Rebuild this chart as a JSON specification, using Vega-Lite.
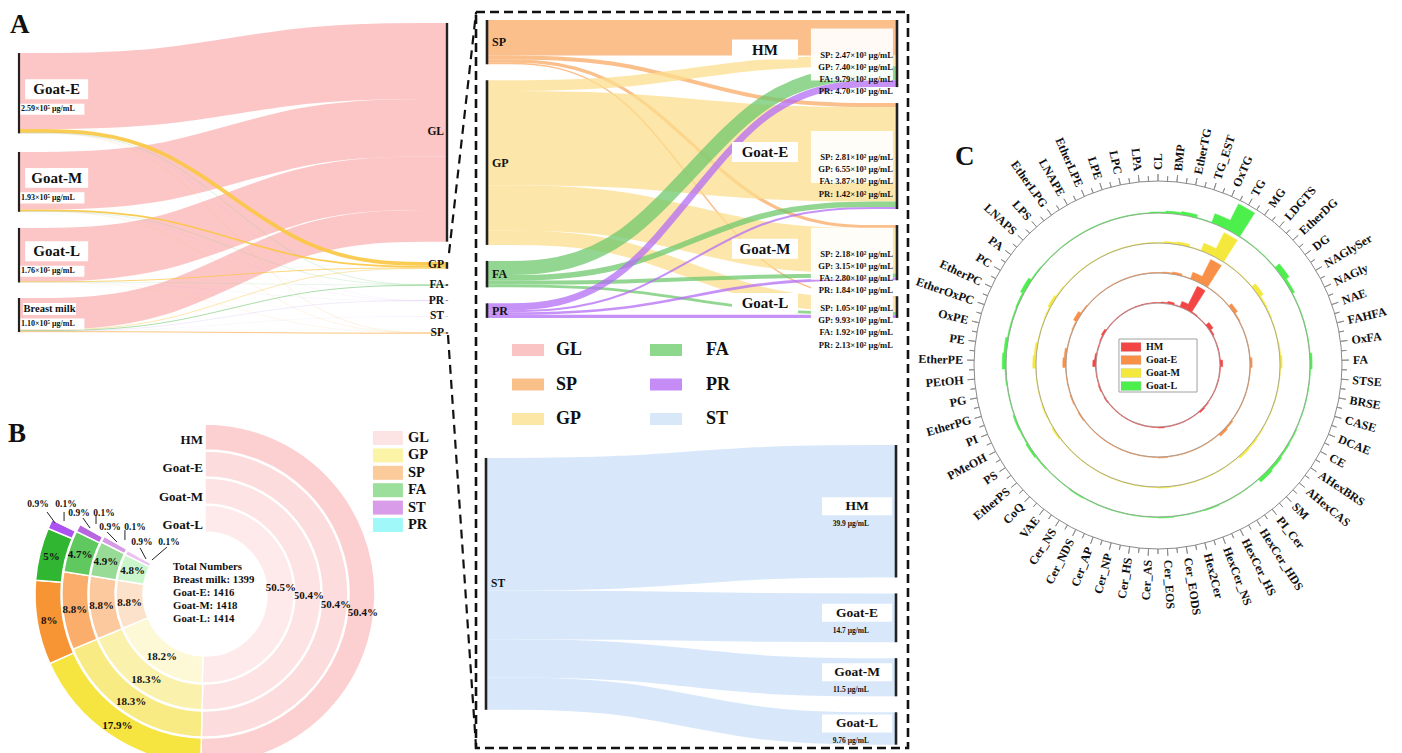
{
"$schema":"https://vega.github.io/schema/vega-lite/v6.json",
"width":1402,"height":753,"padding":0,"autosize":{"type":"none"},"background":"white",
"config":{"view":{"stroke":null},"font":"Liberation Serif","text":{"font":"Liberation Serif","fontWeight":"bold","color":"#111111"}},
"datasets":{
"ls":[
{"s":"~","t":"~","so":0,"to":99,"v":97000},
{"s":"~","t":"~","so":1.5,"to":99,"v":60000},
{"s":"~","t":"~","so":2.5,"to":99,"v":52000},
{"s":"~","t":"~","so":3.5,"to":99,"v":50000},
{"s":"~","t":"~","so":99,"to":1.5,"v":66000},
{"s":"~","t":"~","so":99,"to":2.5,"v":50000},
{"s":"~","t":"~","so":99,"to":3.5,"v":47000},
{"s":"~","t":"~","so":99,"to":4.5,"v":50000},
{"s":"~","t":"~","so":99,"to":5.5,"v":51000},
{"s":"Goat-E","t":"GL","so":1,"to":1,"v":245000},
{"s":"Goat-E","t":"GP","so":1,"to":2,"v":12000},
{"s":"Goat-E","t":"FA","so":1,"to":3,"v":1000},
{"s":"Goat-E","t":"PR","so":1,"to":4,"v":300},
{"s":"Goat-E","t":"ST","so":1,"to":5,"v":100},
{"s":"Goat-E","t":"SP","so":1,"to":6,"v":600},
{"s":"Goat-M","t":"GL","so":2,"to":1,"v":185800},
{"s":"Goat-M","t":"GP","so":2,"to":2,"v":5500},
{"s":"Goat-M","t":"FA","so":2,"to":3,"v":800},
{"s":"Goat-M","t":"PR","so":2,"to":4,"v":300},
{"s":"Goat-M","t":"ST","so":2,"to":5,"v":100},
{"s":"Goat-M","t":"SP","so":2,"to":6,"v":500},
{"s":"Goat-L","t":"GL","so":3,"to":1,"v":172100},
{"s":"Goat-L","t":"GP","so":3,"to":2,"v":2500},
{"s":"Goat-L","t":"FA","so":3,"to":3,"v":600},
{"s":"Goat-L","t":"PR","so":3,"to":4,"v":300},
{"s":"Goat-L","t":"ST","so":3,"to":5,"v":100},
{"s":"Goat-L","t":"SP","so":3,"to":6,"v":400},
{"s":"Breast milk","t":"GL","so":4,"to":1,"v":102400},
{"s":"Breast milk","t":"GP","so":4,"to":2,"v":1500},
{"s":"Breast milk","t":"FA","so":4,"to":3,"v":2500},
{"s":"Breast milk","t":"PR","so":4,"to":4,"v":700},
{"s":"Breast milk","t":"ST","so":4,"to":5,"v":300},
{"s":"Breast milk","t":"SP","so":4,"to":6,"v":2600}
],
"rs":[
{"s":"~","t":"~","so":1.5,"to":99,"v":1111},
{"s":"~","t":"~","so":2.5,"to":99,"v":1111},
{"s":"~","t":"~","so":3.5,"to":99,"v":1111},
{"s":"~","t":"~","so":99,"to":1.5,"v":1111},
{"s":"~","t":"~","so":99,"to":2.5,"v":1111},
{"s":"~","t":"~","so":99,"to":3.5,"v":1111},
{"s":"SP","t":"HM","so":1,"to":1,"v":2470},
{"s":"SP","t":"Goat-E","so":1,"to":2,"v":281},
{"s":"SP","t":"Goat-M","so":1,"to":3,"v":218},
{"s":"SP","t":"Goat-L","so":1,"to":4,"v":105},
{"s":"GP","t":"HM","so":2,"to":1,"v":740},
{"s":"GP","t":"Goat-E","so":2,"to":2,"v":6550},
{"s":"GP","t":"Goat-M","so":2,"to":3,"v":3150},
{"s":"GP","t":"Goat-L","so":2,"to":4,"v":993},
{"s":"FA","t":"HM","so":3,"to":1,"v":979},
{"s":"FA","t":"Goat-E","so":3,"to":2,"v":387},
{"s":"FA","t":"Goat-M","so":3,"to":3,"v":280},
{"s":"FA","t":"Goat-L","so":3,"to":4,"v":192},
{"s":"PR","t":"HM","so":4,"to":1,"v":470},
{"s":"PR","t":"Goat-E","so":4,"to":2,"v":142},
{"s":"PR","t":"Goat-M","so":4,"to":3,"v":184},
{"s":"PR","t":"Goat-L","so":4,"to":4,"v":213}
],
"ss":[
{"s":"~","t":"~","so":0,"to":99,"v":3.9},
{"s":"~","t":"~","so":99,"to":1.5,"v":4.8},
{"s":"~","t":"~","so":99,"to":2.5,"v":4.8},
{"s":"~","t":"~","so":99,"to":3.5,"v":4.8},
{"s":"ST","t":"HM","so":1,"to":1,"v":39.9},
{"s":"ST","t":"Goat-E","so":1,"to":2,"v":14.7},
{"s":"ST","t":"Goat-M","so":1,"to":3,"v":11.5},
{"s":"ST","t":"Goat-L","so":1,"to":4,"v":9.76}
],
"curve":[{"pt":"sm","stage":0,"ord":0},{"pt":"sm2","stage":0.3333,"ord":1},{"pt":"tm2","stage":0.6667,"ord":2},{"pt":"tm","stage":1,"ord":3}],
"donut":[
{"g":"HM","c":"GL","k":1,"p":0.504},{"g":"HM","c":"GP","k":2,"p":0.179},{"g":"HM","c":"SP","k":3,"p":0.08},{"g":"HM","c":"FA","k":4,"p":0.05},{"g":"HM","c":"ST","k":5,"p":0.009},{"g":"HM","c":"PR","k":6,"p":0.001},
{"g":"Goat-E","c":"GL","k":1,"p":0.504},{"g":"Goat-E","c":"GP","k":2,"p":0.183},{"g":"Goat-E","c":"SP","k":3,"p":0.088},{"g":"Goat-E","c":"FA","k":4,"p":0.047},{"g":"Goat-E","c":"ST","k":5,"p":0.009},{"g":"Goat-E","c":"PR","k":6,"p":0.001},
{"g":"Goat-M","c":"GL","k":1,"p":0.504},{"g":"Goat-M","c":"GP","k":2,"p":0.183},{"g":"Goat-M","c":"SP","k":3,"p":0.088},{"g":"Goat-M","c":"FA","k":4,"p":0.049},{"g":"Goat-M","c":"ST","k":5,"p":0.009},{"g":"Goat-M","c":"PR","k":6,"p":0.001},
{"g":"Goat-L","c":"GL","k":1,"p":0.505},{"g":"Goat-L","c":"GP","k":2,"p":0.182},{"g":"Goat-L","c":"SP","k":3,"p":0.088},{"g":"Goat-L","c":"FA","k":4,"p":0.048},{"g":"Goat-L","c":"ST","k":5,"p":0.009},{"g":"Goat-L","c":"PR","k":6,"p":0.001}
],
"radar":[
{"lipid":"CL","i":0,"HM":1,"Goat-E":1,"Goat-M":1,"Goat-L":2},
{"lipid":"BMP","i":1,"HM":2,"Goat-E":2,"Goat-M":3,"Goat-L":4},
{"lipid":"EtherTG","i":2,"HM":4,"Goat-E":4,"Goat-M":5,"Goat-L":6},
{"lipid":"TG_EST","i":3,"HM":1,"Goat-E":1,"Goat-M":1,"Goat-L":1},
{"lipid":"OxTG","i":4,"HM":11,"Goat-E":13,"Goat-M":15,"Goat-L":18},
{"lipid":"TG","i":5,"HM":48,"Goat-E":48,"Goat-M":48,"Goat-L":52},
{"lipid":"MG","i":6,"HM":2,"Goat-E":1,"Goat-M":1,"Goat-L":1},
{"lipid":"LDGTS","i":7,"HM":1,"Goat-E":1,"Goat-M":1,"Goat-L":1},
{"lipid":"EtherDG","i":8,"HM":1,"Goat-E":1,"Goat-M":1,"Goat-L":1},
{"lipid":"DG","i":9,"HM":8,"Goat-E":7,"Goat-M":9,"Goat-L":11},
{"lipid":"NAGlySer","i":10,"HM":3,"Goat-E":2,"Goat-M":3,"Goat-L":5},
{"lipid":"NAGly","i":11,"HM":1,"Goat-E":1,"Goat-M":2,"Goat-L":1},
{"lipid":"NAE","i":12,"HM":1,"Goat-E":1,"Goat-M":1,"Goat-L":1},
{"lipid":"FAHFA","i":13,"HM":1,"Goat-E":1,"Goat-M":1,"Goat-L":1},
{"lipid":"OxFA","i":14,"HM":1,"Goat-E":1,"Goat-M":2,"Goat-L":1},
{"lipid":"FA","i":15,"HM":5,"Goat-E":4,"Goat-M":4,"Goat-L":4},
{"lipid":"STSE","i":16,"HM":1,"Goat-E":1,"Goat-M":1,"Goat-L":1},
{"lipid":"BRSE","i":17,"HM":1,"Goat-E":1,"Goat-M":1,"Goat-L":1},
{"lipid":"CASE","i":18,"HM":1,"Goat-E":1,"Goat-M":1,"Goat-L":1},
{"lipid":"DCAE","i":19,"HM":1,"Goat-E":1,"Goat-M":1,"Goat-L":1},
{"lipid":"CE","i":20,"HM":1,"Goat-E":1,"Goat-M":1,"Goat-L":2},
{"lipid":"AHexBRS","i":21,"HM":1,"Goat-E":1,"Goat-M":2,"Goat-L":3},
{"lipid":"AHexCAS","i":22,"HM":2,"Goat-E":3,"Goat-M":3,"Goat-L":5},
{"lipid":"SM","i":23,"HM":3,"Goat-E":5,"Goat-M":4,"Goat-L":7},
{"lipid":"PI_Cer","i":24,"HM":1,"Goat-E":1,"Goat-M":1,"Goat-L":1},
{"lipid":"HexCer_HDS","i":25,"HM":1,"Goat-E":1,"Goat-M":1,"Goat-L":1},
{"lipid":"HexCer_HS","i":26,"HM":1,"Goat-E":1,"Goat-M":1,"Goat-L":1},
{"lipid":"HexCer_NS","i":27,"HM":1,"Goat-E":1,"Goat-M":1,"Goat-L":2},
{"lipid":"Hex2Cer","i":28,"HM":1,"Goat-E":1,"Goat-M":1,"Goat-L":1},
{"lipid":"Cer_EODS","i":29,"HM":1,"Goat-E":1,"Goat-M":1,"Goat-L":1},
{"lipid":"Cer_EOS","i":30,"HM":2,"Goat-E":2,"Goat-M":2,"Goat-L":2},
{"lipid":"Cer_AS","i":31,"HM":1,"Goat-E":1,"Goat-M":1,"Goat-L":1},
{"lipid":"Cer_HS","i":32,"HM":1,"Goat-E":1,"Goat-M":1,"Goat-L":1},
{"lipid":"Cer_NP","i":33,"HM":1,"Goat-E":1,"Goat-M":1,"Goat-L":1},
{"lipid":"Cer_AP","i":34,"HM":1,"Goat-E":1,"Goat-M":1,"Goat-L":1},
{"lipid":"Cer_NDS","i":35,"HM":1,"Goat-E":1,"Goat-M":1,"Goat-L":1},
{"lipid":"Cer_NS","i":36,"HM":1,"Goat-E":1,"Goat-M":1,"Goat-L":2},
{"lipid":"VAE","i":37,"HM":1,"Goat-E":1,"Goat-M":1,"Goat-L":1},
{"lipid":"CoQ","i":38,"HM":1,"Goat-E":1,"Goat-M":1,"Goat-L":1},
{"lipid":"EtherPS","i":39,"HM":1,"Goat-E":1,"Goat-M":1,"Goat-L":2},
{"lipid":"PS","i":40,"HM":2,"Goat-E":2,"Goat-M":3,"Goat-L":4},
{"lipid":"PMeOH","i":41,"HM":1,"Goat-E":1,"Goat-M":1,"Goat-L":2},
{"lipid":"PI","i":42,"HM":2,"Goat-E":2,"Goat-M":2,"Goat-L":3},
{"lipid":"EtherPG","i":43,"HM":1,"Goat-E":1,"Goat-M":1,"Goat-L":1},
{"lipid":"PG","i":44,"HM":1,"Goat-E":1,"Goat-M":1,"Goat-L":1},
{"lipid":"PEtOH","i":45,"HM":1,"Goat-E":1,"Goat-M":1,"Goat-L":2},
{"lipid":"EtherPE","i":46,"HM":6,"Goat-E":6,"Goat-M":6,"Goat-L":7},
{"lipid":"PE","i":47,"HM":3,"Goat-E":4,"Goat-M":4,"Goat-L":5},
{"lipid":"OxPE","i":48,"HM":1,"Goat-E":1,"Goat-M":1,"Goat-L":2},
{"lipid":"EtherOxPC","i":49,"HM":1,"Goat-E":1,"Goat-M":1,"Goat-L":2},
{"lipid":"EtherPC","i":50,"HM":2,"Goat-E":2,"Goat-M":2,"Goat-L":3},
{"lipid":"PC","i":51,"HM":4,"Goat-E":7,"Goat-M":5,"Goat-L":7},
{"lipid":"PA","i":52,"HM":1,"Goat-E":2,"Goat-M":2,"Goat-L":2},
{"lipid":"LNAPS","i":53,"HM":1,"Goat-E":1,"Goat-M":1,"Goat-L":1},
{"lipid":"LPS","i":54,"HM":1,"Goat-E":1,"Goat-M":1,"Goat-L":1},
{"lipid":"EtherLPG","i":55,"HM":1,"Goat-E":1,"Goat-M":1,"Goat-L":1},
{"lipid":"LNAPE","i":56,"HM":1,"Goat-E":1,"Goat-M":1,"Goat-L":1},
{"lipid":"EtherLPE","i":57,"HM":1,"Goat-E":1,"Goat-M":1,"Goat-L":1},
{"lipid":"LPE","i":58,"HM":1,"Goat-E":1,"Goat-M":1,"Goat-L":1},
{"lipid":"LPC","i":59,"HM":1,"Goat-E":1,"Goat-M":1,"Goat-L":1},
{"lipid":"LPA","i":60,"HM":1,"Goat-E":1,"Goat-M":1,"Goat-L":1}
],
"legA":[{"c":"GL","col":1,"row":1},{"c":"SP","col":1,"row":2},{"c":"GP","col":1,"row":3},{"c":"FA","col":2,"row":1},{"c":"PR","col":2,"row":2},{"c":"ST","col":2,"row":3}],
"grp":[{"g":"HM"},{"g":"Goat-E"},{"g":"Goat-M"},{"g":"Goat-L"}]
},
"resolve":{"scale":{"x":"independent","y":"independent","color":"independent","strokeWidth":"independent","theta":"independent","radius":"independent","angle":"independent","opacity":"independent"}},
"layer":[
{"data":{"name":"ls"},
 "transform":[
  {"stack":"v","groupby":[],"sort":[{"field":"so"},{"field":"to"}],"as":["s0","s1"]},
  {"stack":"v","groupby":[],"sort":[{"field":"to"},{"field":"so"}],"as":["t0","t1"]},
  {"filter":{"not":{"field":"s","equal":"~"}}},
  {"fold":["s0","s1"],"as":["ks","ys"]},
  {"joinaggregate":[{"op":"mean","field":"ys","as":"sm"},{"op":"median","field":"ys","as":"sm2"}],"groupby":["s","t"]},
  {"filter":{"field":"ks","equal":"s0"}},
  {"fold":["t0","t1"],"as":["kt","yt"]},
  {"joinaggregate":[{"op":"mean","field":"yt","as":"tm"},{"op":"median","field":"yt","as":"tm2"}],"groupby":["s","t"]},
  {"filter":{"field":"kt","equal":"t0"}},
  {"fold":["sm","sm2","tm2","tm"],"as":["pt","y"]},
  {"lookup":"pt","from":{"data":{"name":"curve"},"key":"pt","fields":["stage","ord"]}},
  {"filter":{"field":"t","equal":"GL"}}
 ],
 "mark":{"type":"line","interpolate":"basis","opacity":0.85,"color":"#fbbcbc"},
 "encoding":{
  "x":{"field":"stage","type":"quantitative","scale":{"domain":[0,1],"range":[19,447]},"axis":null},
  "y":{"field":"y","type":"quantitative","scale":{"domain":[0,1000000],"range":[23,333]},"axis":null},
  "order":{"field":"ord","type":"quantitative"},
  "detail":[{"field":"s","type":"nominal"},{"field":"t","type":"nominal"}],
  "strokeWidth":{"field":"v","type":"quantitative","scale":{"domain":[0,1000000],"range":[0,310]},"legend":null}
 }},
{"data":{"name":"ls"},
 "transform":[
  {"stack":"v","groupby":[],"sort":[{"field":"so"},{"field":"to"}],"as":["s0","s1"]},
  {"stack":"v","groupby":[],"sort":[{"field":"to"},{"field":"so"}],"as":["t0","t1"]},
  {"filter":{"not":{"field":"s","equal":"~"}}},
  {"fold":["s0","s1"],"as":["ks","ys"]},
  {"joinaggregate":[{"op":"mean","field":"ys","as":"sm"},{"op":"median","field":"ys","as":"sm2"}],"groupby":["s","t"]},
  {"filter":{"field":"ks","equal":"s0"}},
  {"fold":["t0","t1"],"as":["kt","yt"]},
  {"joinaggregate":[{"op":"mean","field":"yt","as":"tm"},{"op":"median","field":"yt","as":"tm2"}],"groupby":["s","t"]},
  {"filter":{"field":"kt","equal":"t0"}},
  {"fold":["sm","sm2","tm2","tm"],"as":["pt","y"]},
  {"lookup":"pt","from":{"data":{"name":"curve"},"key":"pt","fields":["stage","ord"]}},
  {"filter":{"not":{"field":"t","equal":"GL"}}}
 ],
 "mark":{"type":"line","interpolate":"basis","opacity":0.9},
 "encoding":{
  "x":{"field":"stage","type":"quantitative","scale":{"domain":[0,1],"range":[19,447]},"axis":null},
  "y":{"field":"y","type":"quantitative","scale":{"domain":[0,1000000],"range":[23,333]},"axis":null},
  "order":{"field":"ord","type":"quantitative"},
  "detail":[{"field":"s","type":"nominal"},{"field":"t","type":"nominal"}],
  "color":{"field":"t","type":"nominal","scale":{"domain":["GP","FA","PR","ST","SP"],"range":["#fbc640","#86cf86","#b99af0","#c0a8f2","#f8b050"]},"legend":null},
  "strokeWidth":{"field":"v","type":"quantitative","scale":{"domain":[0,1000000],"range":[0,310]},"legend":null}
 }},
{"data":{"name":"ls"},
 "transform":[
  {"stack":"v","groupby":[],"sort":[{"field":"so"},{"field":"to"}],"as":["s0","s1"]},
  {"stack":"v","groupby":[],"sort":[{"field":"to"},{"field":"so"}],"as":["t0","t1"]},
  {"filter":{"not":{"field":"s","equal":"~"}}},
  {"aggregate":[{"op":"min","field":"s0","as":"lo"},{"op":"max","field":"s1","as":"hi"}],"groupby":["s"]}
 ],
 "mark":{"type":"rule","strokeWidth":2.2,"color":"#222222"},
 "encoding":{
  "x":{"datum":0,"type":"quantitative","scale":{"domain":[0,1],"range":[19,447]},"axis":null},
  "y":{"field":"lo","type":"quantitative","scale":{"domain":[0,1000000],"range":[23,333]},"axis":null},
  "y2":{"field":"hi"}
 }},
{"data":{"name":"ls"},
 "transform":[
  {"stack":"v","groupby":[],"sort":[{"field":"so"},{"field":"to"}],"as":["s0","s1"]},
  {"stack":"v","groupby":[],"sort":[{"field":"to"},{"field":"so"}],"as":["t0","t1"]},
  {"filter":{"not":{"field":"s","equal":"~"}}},
  {"aggregate":[{"op":"min","field":"t0","as":"lo"},{"op":"max","field":"t1","as":"hi"}],"groupby":["t"]}
 ],
 "mark":{"type":"rule","strokeWidth":2.4,"color":"#222222"},
 "encoding":{
  "x":{"datum":1,"type":"quantitative","scale":{"domain":[0,1],"range":[19,447]},"axis":null},
  "y":{"field":"lo","type":"quantitative","scale":{"domain":[0,1000000],"range":[23,333]},"axis":null},
  "y2":{"field":"hi"}
 }},
{"data":{"values":[{"x1":1.0047,"y1":742000,"x2":1.068,"y2":-35500},{"x1":1.0023,"y1":1006500,"x2":1.068,"y2":2338700}]},
 "mark":{"type":"rule","strokeWidth":2.2,"strokeDash":[9,6],"color":"#111111"},
 "encoding":{
  "x":{"field":"x1","type":"quantitative","scale":{"domain":[0,1],"range":[19,447]},"axis":null},
  "y":{"field":"y1","type":"quantitative","scale":{"domain":[0,1000000],"range":[23,333]},"axis":null},
  "x2":{"field":"x2"},"y2":{"field":"y2"}
 }},
{"data":{"name":"ls"},
 "transform":[
  {"stack":"v","groupby":[],"sort":[{"field":"so"},{"field":"to"}],"as":["s0","s1"]},
  {"stack":"v","groupby":[],"sort":[{"field":"to"},{"field":"so"}],"as":["t0","t1"]},
  {"filter":{"not":{"field":"s","equal":"~"}}},
  {"aggregate":[{"op":"min","field":"s0","as":"lo"},{"op":"max","field":"s1","as":"hi"}],"groupby":["s"]},
  {"fold":["lo","hi"],"as":["kk","yy"]},
  {"aggregate":[{"op":"mean","field":"yy","as":"mid"}],"groupby":["s"]}
 ],
 "layer":[
  {"transform":[{"filter":{"not":{"field":"s","equal":"Breast milk"}}}],
   "mark":{"type":"point","shape":"M-1,-0.317H1V0.317H-1Z","size":3969,"filled":true,"fill":"white","opacity":1,"strokeWidth":0,"yOffset":-4},
   "encoding":{"x":{"datum":0.088,"type":"quantitative","scale":{"domain":[0,1],"range":[19,447]},"axis":null},"y":{"field":"mid","type":"quantitative","scale":{"domain":[0,1000000],"range":[23,333]},"axis":null}}},
  {"transform":[{"filter":{"not":{"field":"s","equal":"Breast milk"}}}],
   "mark":{"type":"text","fontSize":15,"align":"center","baseline":"middle","yOffset":-4},
   "encoding":{"x":{"datum":0.088,"type":"quantitative","scale":{"domain":[0,1],"range":[19,447]},"axis":null},"y":{"field":"mid","type":"quantitative","scale":{"domain":[0,1000000],"range":[23,333]},"axis":null},"text":{"field":"s"}}},
  {"transform":[{"filter":{"field":"s","equal":"Breast milk"}}],
   "mark":{"type":"point","shape":"M-1,-0.226H1V0.226H-1Z","size":2809,"filled":true,"fill":"white","opacity":1,"strokeWidth":0,"yOffset":-6},
   "encoding":{"x":{"datum":0.0713,"type":"quantitative","scale":{"domain":[0,1],"range":[19,447]},"axis":null},"y":{"field":"mid","type":"quantitative","scale":{"domain":[0,1000000],"range":[23,333]},"axis":null}}},
  {"transform":[{"filter":{"field":"s","equal":"Breast milk"}}],
   "mark":{"type":"text","fontSize":10.5,"align":"center","baseline":"middle","yOffset":-6},
   "encoding":{"x":{"datum":0.0713,"type":"quantitative","scale":{"domain":[0,1],"range":[19,447]},"axis":null},"y":{"field":"mid","type":"quantitative","scale":{"domain":[0,1000000],"range":[23,333]},"axis":null},"text":{"field":"s"}}}
 ],
 "resolve":{"scale":{"x":"independent","y":"independent"}}},
{"data":{"name":"ls"},
 "transform":[
  {"stack":"v","groupby":[],"sort":[{"field":"so"},{"field":"to"}],"as":["s0","s1"]},
  {"stack":"v","groupby":[],"sort":[{"field":"to"},{"field":"so"}],"as":["t0","t1"]},
  {"filter":{"not":{"field":"s","equal":"~"}}},
  {"aggregate":[{"op":"min","field":"s0","as":"lo"},{"op":"max","field":"s1","as":"hi"}],"groupby":["s"]},
  {"fold":["lo","hi"],"as":["kk","yy"]},
  {"aggregate":[{"op":"mean","field":"yy","as":"mid"}],"groupby":["s"]},
  {"lookup":"s","from":{"data":{"values":[{"s":"Goat-E","lab":"2.59×10⁵ μg/mL"},{"s":"Goat-M","lab":"1.93×10⁵ μg/mL"},{"s":"Goat-L","lab":"1.76×10⁵ μg/mL"},{"s":"Breast milk","lab":"1.10×10⁵ μg/mL"}]},"key":"s","fields":["lab"]}}
 ],
 "layer":[
  {"transform":[{"filter":{"not":{"field":"s","equal":"Breast milk"}}}],
   "mark":{"type":"point","shape":"M-1,-0.172H1V0.172H-1Z","size":4096,"filled":true,"fill":"white","opacity":1,"strokeWidth":0,"yOffset":16},
   "encoding":{"x":{"datum":0.078,"type":"quantitative","scale":{"domain":[0,1],"range":[19,447]},"axis":null},"y":{"field":"mid","type":"quantitative","scale":{"domain":[0,1000000],"range":[23,333]},"axis":null}}},
  {"transform":[{"filter":{"not":{"field":"s","equal":"Breast milk"}}}],
   "mark":{"type":"text","fontSize":8,"align":"left","baseline":"middle","yOffset":16},
   "encoding":{"x":{"datum":0.0047,"type":"quantitative","scale":{"domain":[0,1],"range":[19,447]},"axis":null},"y":{"field":"mid","type":"quantitative","scale":{"domain":[0,1000000],"range":[23,333]},"axis":null},"text":{"field":"lab"}}},
  {"transform":[{"filter":{"field":"s","equal":"Breast milk"}}],
   "mark":{"type":"point","shape":"M-1,-0.172H1V0.172H-1Z","size":4096,"filled":true,"fill":"white","opacity":1,"strokeWidth":0,"yOffset":9},
   "encoding":{"x":{"datum":0.078,"type":"quantitative","scale":{"domain":[0,1],"range":[19,447]},"axis":null},"y":{"field":"mid","type":"quantitative","scale":{"domain":[0,1000000],"range":[23,333]},"axis":null}}},
  {"transform":[{"filter":{"field":"s","equal":"Breast milk"}}],
   "mark":{"type":"text","fontSize":8,"align":"left","baseline":"middle","yOffset":9},
   "encoding":{"x":{"datum":0.0047,"type":"quantitative","scale":{"domain":[0,1],"range":[19,447]},"axis":null},"y":{"field":"mid","type":"quantitative","scale":{"domain":[0,1000000],"range":[23,333]},"axis":null},"text":{"field":"lab"}}}
 ],
 "resolve":{"scale":{"x":"independent","y":"independent"}}},
{"data":{"name":"ls"},
 "transform":[
  {"stack":"v","groupby":[],"sort":[{"field":"so"},{"field":"to"}],"as":["s0","s1"]},
  {"stack":"v","groupby":[],"sort":[{"field":"to"},{"field":"so"}],"as":["t0","t1"]},
  {"filter":{"not":{"field":"s","equal":"~"}}},
  {"aggregate":[{"op":"min","field":"t0","as":"lo"},{"op":"max","field":"t1","as":"hi"}],"groupby":["t"]},
  {"fold":["lo","hi"],"as":["kk","yy"]},
  {"aggregate":[{"op":"mean","field":"yy","as":"mid"}],"groupby":["t"]}
 ],
 "mark":{"type":"text","fontSize":11.5,"align":"right","baseline":"middle","dx":-3},
 "encoding":{
  "x":{"datum":1,"type":"quantitative","scale":{"domain":[0,1],"range":[19,447]},"axis":null},
  "y":{"field":"mid","type":"quantitative","scale":{"domain":[0,1000000],"range":[23,333]},"axis":null},
  "text":{"field":"t"}
 }},
{"data":{"values":[{}]},
 "mark":{"type":"text","fontSize":27,"align":"left","baseline":"alphabetic"},
 "encoding":{
  "x":{"datum":-0.021,"type":"quantitative","scale":{"domain":[0,1],"range":[19,447]},"axis":null},
  "y":{"datum":32258,"type":"quantitative","scale":{"domain":[0,1000000],"range":[23,333]},"axis":null},
  "text":{"value":"A"}
 }},
{"data":{"name":"rs"},
 "transform":[
  {"stack":"v","groupby":[],"sort":[{"field":"so"},{"field":"to"}],"as":["s0","s1"]},
  {"stack":"v","groupby":[],"sort":[{"field":"to"},{"field":"so"}],"as":["t0","t1"]},
  {"filter":{"not":{"field":"s","equal":"~"}}},
  {"fold":["s0","s1"],"as":["ks","ys"]},
  {"joinaggregate":[{"op":"mean","field":"ys","as":"sm"},{"op":"median","field":"ys","as":"sm2"}],"groupby":["s","t"]},
  {"filter":{"field":"ks","equal":"s0"}},
  {"fold":["t0","t1"],"as":["kt","yt"]},
  {"joinaggregate":[{"op":"mean","field":"yt","as":"tm"},{"op":"median","field":"yt","as":"tm2"}],"groupby":["s","t"]},
  {"filter":{"field":"kt","equal":"t0"}},
  {"fold":["sm","sm2","tm2","tm"],"as":["pt","y"]},
  {"lookup":"pt","from":{"data":{"name":"curve"},"key":"pt","fields":["stage","ord"]}},
  {"filter":{"field":"s","oneOf":["SP","GP"]}}
 ],
 "mark":{"type":"line","interpolate":"basis","opacity":0.75},
 "encoding":{
  "x":{"field":"stage","type":"quantitative","scale":{"domain":[0,1],"range":[487,897]},"axis":null},
  "y":{"field":"y","type":"quantitative","scale":{"domain":[0,20000],"range":[20,308]},"axis":null},
  "order":{"field":"ord","type":"quantitative"},
  "detail":[{"field":"s","type":"nominal"},{"field":"t","type":"nominal"}],
  "color":{"field":"s","type":"nominal","scale":{"domain":["SP","GP"],"range":["#f8aa64","#fcde8c"]},"legend":null},
  "strokeWidth":{"field":"v","type":"quantitative","scale":{"domain":[0,20000],"range":[0,288]},"legend":null}
 }},
{"data":{"name":"rs"},
 "transform":[
  {"stack":"v","groupby":[],"sort":[{"field":"so"},{"field":"to"}],"as":["s0","s1"]},
  {"stack":"v","groupby":[],"sort":[{"field":"to"},{"field":"so"}],"as":["t0","t1"]},
  {"filter":{"not":{"field":"s","equal":"~"}}},
  {"fold":["s0","s1"],"as":["ks","ys"]},
  {"joinaggregate":[{"op":"mean","field":"ys","as":"sm"},{"op":"median","field":"ys","as":"sm2"}],"groupby":["s","t"]},
  {"filter":{"field":"ks","equal":"s0"}},
  {"fold":["t0","t1"],"as":["kt","yt"]},
  {"joinaggregate":[{"op":"mean","field":"yt","as":"tm"},{"op":"median","field":"yt","as":"tm2"}],"groupby":["s","t"]},
  {"filter":{"field":"kt","equal":"t0"}},
  {"fold":["sm","sm2","tm2","tm"],"as":["pt","y"]},
  {"lookup":"pt","from":{"data":{"name":"curve"},"key":"pt","fields":["stage","ord"]}},
  {"filter":{"field":"s","oneOf":["FA","PR"]}}
 ],
 "mark":{"type":"line","interpolate":"basis","opacity":0.75},
 "encoding":{
  "x":{"field":"stage","type":"quantitative","scale":{"domain":[0,1],"range":[487,897]},"axis":null},
  "y":{"field":"y","type":"quantitative","scale":{"domain":[0,20000],"range":[20,308]},"axis":null},
  "order":{"field":"ord","type":"quantitative"},
  "detail":[{"field":"s","type":"nominal"},{"field":"t","type":"nominal"}],
  "color":{"field":"s","type":"nominal","scale":{"domain":["FA","PR"],"range":["#6ec86e","#b46ef5"]},"legend":null},
  "strokeWidth":{"field":"v","type":"quantitative","scale":{"domain":[0,20000],"range":[0,288]},"legend":null}
 }},
{"data":{"name":"rs"},
 "transform":[
  {"stack":"v","groupby":[],"sort":[{"field":"so"},{"field":"to"}],"as":["s0","s1"]},
  {"stack":"v","groupby":[],"sort":[{"field":"to"},{"field":"so"}],"as":["t0","t1"]},
  {"filter":{"not":{"field":"s","equal":"~"}}},
  {"aggregate":[{"op":"min","field":"s0","as":"lo"},{"op":"max","field":"s1","as":"hi"}],"groupby":["s"]},
  {"fold":["lo","hi"],"as":["kk","yy"]},
  {"joinaggregate":[{"op":"min","field":"yy","as":"lo2"},{"op":"max","field":"yy","as":"hi2"},{"op":"mean","field":"yy","as":"mid"}],"groupby":["s"]},
  {"filter":{"field":"kk","equal":"lo"}}
 ],
 "layer":[
  {"mark":{"type":"rule","strokeWidth":2.6,"color":"#222222"},
   "encoding":{"x":{"datum":0,"type":"quantitative","scale":{"domain":[0,1],"range":[487,897]},"axis":null},"y":{"field":"lo2","type":"quantitative","scale":{"domain":[0,20000],"range":[20,308]},"axis":null},"y2":{"field":"hi2"}}},
  {"mark":{"type":"text","fontSize":12,"align":"left","baseline":"middle","dx":5},
   "encoding":{"x":{"datum":0,"type":"quantitative","scale":{"domain":[0,1],"range":[487,897]},"axis":null},"y":{"field":"mid","type":"quantitative","scale":{"domain":[0,20000],"range":[20,308]},"axis":null},"text":{"field":"s"}}}
 ],
 "resolve":{"scale":{"x":"independent","y":"independent"}}},
{"data":{"name":"rs"},
 "transform":[
  {"stack":"v","groupby":[],"sort":[{"field":"so"},{"field":"to"}],"as":["s0","s1"]},
  {"stack":"v","groupby":[],"sort":[{"field":"to"},{"field":"so"}],"as":["t0","t1"]},
  {"filter":{"not":{"field":"s","equal":"~"}}},
  {"aggregate":[{"op":"min","field":"t0","as":"lo"},{"op":"max","field":"t1","as":"hi"}],"groupby":["t"]},
  {"fold":["lo","hi"],"as":["kk","yy"]},
  {"joinaggregate":[{"op":"min","field":"yy","as":"lo2"},{"op":"max","field":"yy","as":"hi2"},{"op":"mean","field":"yy","as":"mid"}],"groupby":["t"]},
  {"filter":{"field":"kk","equal":"lo"}},
  {"lookup":"t","from":{"data":{"values":[
   {"t":"HM","lines":["SP: 2.47×10³ μg/mL","GP: 7.40×10² μg/mL","FA: 9.79×10² μg/mL","PR: 4.70×10² μg/mL"]},
   {"t":"Goat-E","lines":["SP: 2.81×10² μg/mL","GP: 6.55×10³ μg/mL","FA: 3.87×10² μg/mL","PR: 1.42×10² μg/mL"]},
   {"t":"Goat-M","lines":["SP: 2.18×10² μg/mL","GP: 3.15×10³ μg/mL","FA: 2.80×10² μg/mL","PR: 1.84×10² μg/mL"]},
   {"t":"Goat-L","lines":["SP: 1.05×10² μg/mL","GP: 9.93×10² μg/mL","FA: 1.92×10² μg/mL","PR: 2.13×10² μg/mL"]}]},"key":"t","fields":["lines"]}}
 ],
 "layer":[
  {"mark":{"type":"rule","strokeWidth":2.6,"color":"#222222"},
   "encoding":{"x":{"datum":1,"type":"quantitative","scale":{"domain":[0,1],"range":[487,897]},"axis":null},"y":{"field":"lo2","type":"quantitative","scale":{"domain":[0,20000],"range":[20,308]},"axis":null},"y2":{"field":"hi2"}}},
  {"mark":{"type":"point","shape":"M-1,-0.303H1V0.303H-1Z","size":4356,"filled":true,"fill":"white","opacity":1,"strokeWidth":0,"yOffset":-4},
   "encoding":{"x":{"datum":0.678,"type":"quantitative","scale":{"domain":[0,1],"range":[487,897]},"axis":null},"y":{"field":"mid","type":"quantitative","scale":{"domain":[0,20000],"range":[20,308]},"axis":null}}},
  {"mark":{"type":"text","fontSize":15,"align":"center","baseline":"middle","yOffset":-4},
   "encoding":{"x":{"datum":0.678,"type":"quantitative","scale":{"domain":[0,1],"range":[487,897]},"axis":null},"y":{"field":"mid","type":"quantitative","scale":{"domain":[0,20000],"range":[20,308]},"axis":null},"text":{"field":"t"}}},
  {"mark":{"type":"point","shape":"M-1,-0.634H1V0.634H-1Z","size":6724,"filled":true,"fill":"white","opacity":0.92,"strokeWidth":0,"yOffset":1},
   "encoding":{"x":{"datum":0.89,"type":"quantitative","scale":{"domain":[0,1],"range":[487,897]},"axis":null},"y":{"field":"mid","type":"quantitative","scale":{"domain":[0,20000],"range":[20,308]},"axis":null}}},
  {"mark":{"type":"text","fontSize":8.6,"align":"right","baseline":"middle","dx":-4,"yOffset":1,"lineHeight":12.2},
   "encoding":{"x":{"datum":1,"type":"quantitative","scale":{"domain":[0,1],"range":[487,897]},"axis":null},"y":{"field":"mid","type":"quantitative","scale":{"domain":[0,20000],"range":[20,308]},"axis":null},"text":{"field":"lines"}}}
 ],
 "resolve":{"scale":{"x":"independent","y":"independent"}}},
{"data":{"values":[{}]},
 "mark":{"type":"rect","fill":"transparent","stroke":"#111111","strokeWidth":2.6,"strokeDash":[9,5]},
 "encoding":{
  "x":{"datum":-0.0268,"type":"quantitative","scale":{"domain":[0,1],"range":[487,897]},"axis":null},
  "x2":{"datum":1.0268},
  "y":{"datum":-556,"type":"quantitative","scale":{"domain":[0,20000],"range":[20,308]},"axis":null},
  "y2":{"datum":50556}
 }},
{"data":{"name":"legA"},
 "layer":[
  {"mark":{"type":"point","shape":"M-1,-0.375H1V0.375H-1Z","size":1024,"filled":true,"opacity":1,"strokeWidth":0},
   "encoding":{"x":{"field":"col","type":"quantitative","scale":{"domain":[1,2],"range":[528,666]},"axis":null},"y":{"field":"row","type":"quantitative","scale":{"domain":[1,3],"range":[350,419]},"axis":null},
    "color":{"field":"c","type":"nominal","scale":{"domain":["GL","SP","GP","FA","PR","ST"],"range":["#fbc4c4","#fac08a","#fde7a7","#8ed88e","#c58cf6","#d9e8f9"]},"legend":null}}},
  {"mark":{"type":"text","fontSize":18,"align":"left","baseline":"middle"},
   "encoding":{"x":{"field":"col","type":"quantitative","scale":{"domain":[1,2],"range":[556,706]},"axis":null},"y":{"field":"row","type":"quantitative","scale":{"domain":[1,3],"range":[350,419]},"axis":null},"text":{"field":"c"}}}
 ],
 "resolve":{"scale":{"x":"independent","y":"independent"}}},
{"data":{"name":"ss"},
 "transform":[
  {"stack":"v","groupby":[],"sort":[{"field":"so"},{"field":"to"}],"as":["s0","s1"]},
  {"stack":"v","groupby":[],"sort":[{"field":"to"},{"field":"so"}],"as":["t0","t1"]},
  {"filter":{"not":{"field":"s","equal":"~"}}},
  {"fold":["s0","s1"],"as":["ks","ys"]},
  {"joinaggregate":[{"op":"mean","field":"ys","as":"sm"},{"op":"median","field":"ys","as":"sm2"}],"groupby":["s","t"]},
  {"filter":{"field":"ks","equal":"s0"}},
  {"fold":["t0","t1"],"as":["kt","yt"]},
  {"joinaggregate":[{"op":"mean","field":"yt","as":"tm"},{"op":"median","field":"yt","as":"tm2"}],"groupby":["s","t"]},
  {"filter":{"field":"kt","equal":"t0"}},
  {"fold":["sm","sm2","tm2","tm"],"as":["pt","y"]},
  {"lookup":"pt","from":{"data":{"name":"curve"},"key":"pt","fields":["stage","ord"]}}
 ],
 "mark":{"type":"line","interpolate":"basis","opacity":0.95,"color":"#d6e7fa"},
 "encoding":{
  "x":{"field":"stage","type":"quantitative","scale":{"domain":[0,1],"range":[486,896]},"axis":null},
  "y":{"field":"y","type":"quantitative","scale":{"domain":[0,100],"range":[445,777]},"axis":null},
  "order":{"field":"ord","type":"quantitative"},
  "detail":[{"field":"s","type":"nominal"},{"field":"t","type":"nominal"}],
  "strokeWidth":{"field":"v","type":"quantitative","scale":{"domain":[0,100],"range":[0,332]},"legend":null}
 }},
{"data":{"name":"ss"},
 "transform":[
  {"stack":"v","groupby":[],"sort":[{"field":"so"},{"field":"to"}],"as":["s0","s1"]},
  {"stack":"v","groupby":[],"sort":[{"field":"to"},{"field":"so"}],"as":["t0","t1"]},
  {"filter":{"not":{"field":"s","equal":"~"}}},
  {"aggregate":[{"op":"min","field":"s0","as":"lo"},{"op":"max","field":"s1","as":"hi"}],"groupby":["s"]},
  {"fold":["lo","hi"],"as":["kk","yy"]},
  {"joinaggregate":[{"op":"min","field":"yy","as":"lo2"},{"op":"max","field":"yy","as":"hi2"},{"op":"mean","field":"yy","as":"mid"}],"groupby":["s"]},
  {"filter":{"field":"kk","equal":"lo"}}
 ],
 "layer":[
  {"mark":{"type":"rule","strokeWidth":2.6,"color":"#222222"},
   "encoding":{"x":{"datum":0,"type":"quantitative","scale":{"domain":[0,1],"range":[486,896]},"axis":null},"y":{"field":"lo2","type":"quantitative","scale":{"domain":[0,100],"range":[445,777]},"axis":null},"y2":{"field":"hi2"}}},
  {"mark":{"type":"text","fontSize":11.5,"align":"left","baseline":"middle","dx":5},
   "encoding":{"x":{"datum":0,"type":"quantitative","scale":{"domain":[0,1],"range":[486,896]},"axis":null},"y":{"field":"mid","type":"quantitative","scale":{"domain":[0,100],"range":[445,777]},"axis":null},"text":{"field":"s"}}}
 ],
 "resolve":{"scale":{"x":"independent","y":"independent"}}},
{"data":{"name":"ss"},
 "transform":[
  {"stack":"v","groupby":[],"sort":[{"field":"so"},{"field":"to"}],"as":["s0","s1"]},
  {"stack":"v","groupby":[],"sort":[{"field":"to"},{"field":"so"}],"as":["t0","t1"]},
  {"filter":{"not":{"field":"s","equal":"~"}}},
  {"aggregate":[{"op":"min","field":"t0","as":"lo"},{"op":"max","field":"t1","as":"hi"}],"groupby":["t"]},
  {"fold":["lo","hi"],"as":["kk","yy"]},
  {"joinaggregate":[{"op":"min","field":"yy","as":"lo2"},{"op":"max","field":"yy","as":"hi2"},{"op":"mean","field":"yy","as":"mid"}],"groupby":["t"]},
  {"filter":{"field":"kk","equal":"lo"}},
  {"lookup":"t","from":{"data":{"values":[{"t":"HM","lab":"39.9 μg/mL"},{"t":"Goat-E","lab":"14.7 μg/mL"},{"t":"Goat-M","lab":"11.5 μg/mL"},{"t":"Goat-L","lab":"9.76 μg/mL"}]},"key":"t","fields":["lab"]}}
 ],
 "layer":[
  {"mark":{"type":"rule","strokeWidth":2.6,"color":"#222222"},
   "encoding":{"x":{"datum":1,"type":"quantitative","scale":{"domain":[0,1],"range":[486,896]},"axis":null},"y":{"field":"lo2","type":"quantitative","scale":{"domain":[0,100],"range":[445,777]},"axis":null},"y2":{"field":"hi2"}}},
  {"mark":{"type":"point","shape":"M-1,-0.257H1V0.257H-1Z","size":4900,"filled":true,"fill":"white","opacity":1,"strokeWidth":0,"yOffset":-5},
   "encoding":{"x":{"datum":0.905,"type":"quantitative","scale":{"domain":[0,1],"range":[486,896]},"axis":null},"y":{"field":"mid","type":"quantitative","scale":{"domain":[0,100],"range":[445,777]},"axis":null}}},
  {"mark":{"type":"text","fontSize":13.5,"align":"center","baseline":"middle","yOffset":-5},
   "encoding":{"x":{"datum":0.905,"type":"quantitative","scale":{"domain":[0,1],"range":[486,896]},"axis":null},"y":{"field":"mid","type":"quantitative","scale":{"domain":[0,100],"range":[445,777]},"axis":null},"text":{"field":"t"}}},
  {"mark":{"type":"text","fontSize":7.5,"align":"center","baseline":"middle","yOffset":13},
   "encoding":{"x":{"datum":0.89,"type":"quantitative","scale":{"domain":[0,1],"range":[486,896]},"axis":null},"y":{"field":"mid","type":"quantitative","scale":{"domain":[0,100],"range":[445,777]},"axis":null},"text":{"field":"lab"}}}
 ],
 "resolve":{"scale":{"x":"independent","y":"independent"}}},
{"data":{"name":"donut"},
 "transform":[{"filter":{"field":"g","equal":"HM"}}],
 "layer":[
  {"mark":{"type":"arc","radius":170,"radius2":144,"stroke":"white","strokeWidth":1.5},
   "encoding":{"x":{"datum":0,"type":"quantitative","scale":{"domain":[-1,1],"range":[35,375]},"axis":null},"y":{"datum":0,"type":"quantitative","scale":{"domain":[-1,1],"range":[764,424]},"axis":null},
    "theta":{"field":"p","type":"quantitative","stack":true,"scale":{"domain":[0,1],"range":[0,6.2832]}},"order":{"field":"k","type":"quantitative"},
    "color":{"field":"c","type":"nominal","scale":{"domain":["GL","GP","SP","FA","ST","PR"],"range":["#fcd0d0","#f6e541","#f79433","#31b631","#ab52f0","#7ef0f0"]},"legend":null}}},
  {"transform":[{"filter":{"field":"c","oneOf":["GL","GP","SP","FA"]}}],
   "mark":{"type":"text","radius":158,"fontSize":11,"align":"center","baseline":"middle"},
   "encoding":{"x":{"datum":0,"type":"quantitative","scale":{"domain":[-1,1],"range":[35,375]},"axis":null},"y":{"datum":0,"type":"quantitative","scale":{"domain":[-1,1],"range":[764,424]},"axis":null},
    "theta":{"field":"p","type":"quantitative","stack":true,"scale":{"domain":[0,1],"range":[0,6.2832]}},"order":{"field":"k","type":"quantitative"},
    "opacity":{"condition":{"test":{"field":"c","equal":"GL"},"value":0},"value":1},
    "text":{"field":"p","type":"quantitative","format":".1~%"}}},
  {"transform":[{"filter":{"field":"c","equal":"GL"}}],
   "mark":{"type":"text","radius":158,"fontSize":11,"align":"center","baseline":"middle","yOffset":17},
   "encoding":{"x":{"datum":0,"type":"quantitative","scale":{"domain":[-1,1],"range":[35,375]},"axis":null},"y":{"datum":0,"type":"quantitative","scale":{"domain":[-1,1],"range":[764,424]},"axis":null},
    "theta":{"field":"p","type":"quantitative","stack":true,"scale":{"domain":[0,1],"range":[0,6.2832]}},
    "text":{"field":"p","type":"quantitative","format":".1~%"}}}
 ],
 "resolve":{"scale":{"x":"independent","y":"independent","theta":"independent","color":"independent"}}},
{"data":{"name":"donut"},
 "transform":[{"filter":{"field":"g","equal":"Goat-E"}}],
 "layer":[
  {"mark":{"type":"arc","radius":143,"radius2":117,"stroke":"white","strokeWidth":1.5},
   "encoding":{"x":{"datum":0,"type":"quantitative","scale":{"domain":[-1,1],"range":[35,375]},"axis":null},"y":{"datum":0,"type":"quantitative","scale":{"domain":[-1,1],"range":[764,424]},"axis":null},
    "theta":{"field":"p","type":"quantitative","stack":true,"scale":{"domain":[0,1],"range":[0,6.2832]}},"order":{"field":"k","type":"quantitative"},
    "color":{"field":"c","type":"nominal","scale":{"domain":["GL","GP","SP","FA","ST","PR"],"range":["#fcdcdc","#f8eb84","#fbad6b","#5fc85f","#b866e0","#a0f5f5"]},"legend":null}}},
  {"transform":[{"filter":{"field":"c","oneOf":["GL","GP","SP","FA"]}}],
   "mark":{"type":"text","radius":131,"fontSize":11,"align":"center","baseline":"middle"},
   "encoding":{"x":{"datum":0,"type":"quantitative","scale":{"domain":[-1,1],"range":[35,375]},"axis":null},"y":{"datum":0,"type":"quantitative","scale":{"domain":[-1,1],"range":[764,424]},"axis":null},
    "theta":{"field":"p","type":"quantitative","stack":true,"scale":{"domain":[0,1],"range":[0,6.2832]}},"order":{"field":"k","type":"quantitative"},
    "opacity":{"condition":{"test":{"field":"c","equal":"GL"},"value":0},"value":1},
    "text":{"field":"p","type":"quantitative","format":".1~%"}}},
  {"transform":[{"filter":{"field":"c","equal":"GL"}}],
   "mark":{"type":"text","radius":131,"fontSize":11,"align":"center","baseline":"middle","yOffset":9},
   "encoding":{"x":{"datum":0,"type":"quantitative","scale":{"domain":[-1,1],"range":[35,375]},"axis":null},"y":{"datum":0,"type":"quantitative","scale":{"domain":[-1,1],"range":[764,424]},"axis":null},
    "theta":{"field":"p","type":"quantitative","stack":true,"scale":{"domain":[0,1],"range":[0,6.2832]}},
    "text":{"field":"p","type":"quantitative","format":".1~%"}}}
 ],
 "resolve":{"scale":{"x":"independent","y":"independent","theta":"independent","color":"independent"}}},
{"data":{"name":"donut"},
 "transform":[{"filter":{"field":"g","equal":"Goat-M"}}],
 "layer":[
  {"mark":{"type":"arc","radius":116,"radius2":90,"stroke":"white","strokeWidth":1.5},
   "encoding":{"x":{"datum":0,"type":"quantitative","scale":{"domain":[-1,1],"range":[35,375]},"axis":null},"y":{"datum":0,"type":"quantitative","scale":{"domain":[-1,1],"range":[764,424]},"axis":null},
    "theta":{"field":"p","type":"quantitative","stack":true,"scale":{"domain":[0,1],"range":[0,6.2832]}},"order":{"field":"k","type":"quantitative"},
    "color":{"field":"c","type":"nominal","scale":{"domain":["GL","GP","SP","FA","ST","PR"],"range":["#fde3e3","#faf1ad","#fcc89e","#97db97","#d59be6","#bff8f8"]},"legend":null}}},
  {"transform":[{"filter":{"field":"c","oneOf":["GL","GP","SP","FA"]}}],
   "mark":{"type":"text","radius":104,"fontSize":11,"align":"center","baseline":"middle"},
   "encoding":{"x":{"datum":0,"type":"quantitative","scale":{"domain":[-1,1],"range":[35,375]},"axis":null},"y":{"datum":0,"type":"quantitative","scale":{"domain":[-1,1],"range":[764,424]},"axis":null},
    "theta":{"field":"p","type":"quantitative","stack":true,"scale":{"domain":[0,1],"range":[0,6.2832]}},"order":{"field":"k","type":"quantitative"},
    "opacity":{"condition":{"test":{"field":"c","equal":"GL"},"value":0},"value":1},
    "text":{"field":"p","type":"quantitative","format":".1~%"}}},
  {"transform":[{"filter":{"field":"c","equal":"GL"}}],
   "mark":{"type":"text","radius":104,"fontSize":11,"align":"center","baseline":"middle","yOffset":1},
   "encoding":{"x":{"datum":0,"type":"quantitative","scale":{"domain":[-1,1],"range":[35,375]},"axis":null},"y":{"datum":0,"type":"quantitative","scale":{"domain":[-1,1],"range":[764,424]},"axis":null},
    "theta":{"field":"p","type":"quantitative","stack":true,"scale":{"domain":[0,1],"range":[0,6.2832]}},
    "text":{"field":"p","type":"quantitative","format":".1~%"}}}
 ],
 "resolve":{"scale":{"x":"independent","y":"independent","theta":"independent","color":"independent"}}},
{"data":{"name":"donut"},
 "transform":[{"filter":{"field":"g","equal":"Goat-L"}}],
 "layer":[
  {"mark":{"type":"arc","radius":89,"radius2":62,"stroke":"white","strokeWidth":1.5},
   "encoding":{"x":{"datum":0,"type":"quantitative","scale":{"domain":[-1,1],"range":[35,375]},"axis":null},"y":{"datum":0,"type":"quantitative","scale":{"domain":[-1,1],"range":[764,424]},"axis":null},
    "theta":{"field":"p","type":"quantitative","stack":true,"scale":{"domain":[0,1],"range":[0,6.2832]}},"order":{"field":"k","type":"quantitative"},
    "color":{"field":"c","type":"nominal","scale":{"domain":["GL","GP","SP","FA","ST","PR"],"range":["#feeaea","#fdf8d5","#fde2cb","#cbf6cb","#ebc2f0","#dcfcfc"]},"legend":null}}},
  {"transform":[{"filter":{"field":"c","oneOf":["GL","GP","SP","FA"]}}],
   "mark":{"type":"text","radius":76,"fontSize":11,"align":"center","baseline":"middle"},
   "encoding":{"x":{"datum":0,"type":"quantitative","scale":{"domain":[-1,1],"range":[35,375]},"axis":null},"y":{"datum":0,"type":"quantitative","scale":{"domain":[-1,1],"range":[764,424]},"axis":null},
    "theta":{"field":"p","type":"quantitative","stack":true,"scale":{"domain":[0,1],"range":[0,6.2832]}},"order":{"field":"k","type":"quantitative"},
    "opacity":{"condition":{"test":{"field":"c","equal":"GL"},"value":0},"value":1},
    "text":{"field":"p","type":"quantitative","format":".1~%"}}},
  {"transform":[{"filter":{"field":"c","equal":"GL"}}],
   "mark":{"type":"text","radius":76,"fontSize":11,"align":"center","baseline":"middle","yOffset":-7},
   "encoding":{"x":{"datum":0,"type":"quantitative","scale":{"domain":[-1,1],"range":[35,375]},"axis":null},"y":{"datum":0,"type":"quantitative","scale":{"domain":[-1,1],"range":[764,424]},"axis":null},
    "theta":{"field":"p","type":"quantitative","stack":true,"scale":{"domain":[0,1],"range":[0,6.2832]}},
    "text":{"field":"p","type":"quantitative","format":".1~%"}}}
 ],
 "resolve":{"scale":{"x":"independent","y":"independent","theta":"independent","color":"independent"}}},
{"data":{"name":"donut"},
 "transform":[{"filter":{"field":"c","equal":"GL"}}],
 "mark":{"type":"text","fontSize":13,"align":"right","baseline":"middle","dx":-2},
 "encoding":{
  "x":{"datum":0,"type":"quantitative","scale":{"domain":[-1,1],"range":[35,375]},"axis":null},
  "y":{"field":"g","type":"nominal","scale":{"type":"point","domain":["HM","Goat-E","Goat-M","Goat-L"],"range":[440,525],"padding":0},"axis":null},
  "text":{"field":"g"}
 }},
{"data":{"values":[{"line":"Total Numbers","n":1},{"line":"Breast milk: 1399","n":2},{"line":"Goat-E: 1416","n":3},{"line":"Goat-M: 1418","n":4},{"line":"Goat-L: 1414","n":5}]},
 "mark":{"type":"text","fontSize":10.8,"align":"left","baseline":"middle"},
 "encoding":{
  "x":{"datum":-0.188,"type":"quantitative","scale":{"domain":[-1,1],"range":[35,375]},"axis":null},
  "y":{"field":"n","type":"quantitative","scale":{"domain":[1,5],"range":[567,619]},"axis":null},
  "text":{"field":"line"}
 }},
{"data":{"values":[
  {"x1":-0.929,"y1":0.482,"x2":-0.882,"y2":0.418},{"x1":-0.829,"y1":0.482,"x2":-0.829,"y2":0.429},
  {"x1":-0.718,"y1":0.447,"x2":-0.676,"y2":0.388},{"x1":-0.641,"y1":0.465,"x2":-0.641,"y2":0.412},
  {"x1":-0.576,"y1":0.365,"x2":-0.518,"y2":0.306},{"x1":-0.471,"y1":0.376,"x2":-0.471,"y2":0.318},
  {"x1":-0.382,"y1":0.271,"x2":-0.347,"y2":0.206},{"x1":-0.224,"y1":0.276,"x2":-0.312,"y2":0.2}]},
 "mark":{"type":"rule","strokeWidth":1,"color":"#222222"},
 "encoding":{
  "x":{"field":"x1","type":"quantitative","scale":{"domain":[-1,1],"range":[35,375]},"axis":null},
  "y":{"field":"y1","type":"quantitative","scale":{"domain":[-1,1],"range":[764,424]},"axis":null},
  "x2":{"field":"x2"},"y2":{"field":"y2"}
 }},
{"data":{"values":[
  {"lab":"0.9%","bx":-0.982,"by":0.529},{"lab":"0.1%","bx":-0.818,"by":0.529},
  {"lab":"0.9%","bx":-0.741,"by":0.476},{"lab":"0.1%","bx":-0.594,"by":0.476},
  {"lab":"0.9%","bx":-0.559,"by":0.394},{"lab":"0.1%","bx":-0.412,"by":0.394},
  {"lab":"0.9%","bx":-0.371,"by":0.306},{"lab":"0.1%","bx":-0.212,"by":0.306}]},
 "mark":{"type":"text","fontSize":9.5,"align":"center","baseline":"middle"},
 "encoding":{
  "x":{"field":"bx","type":"quantitative","scale":{"domain":[-1,1],"range":[35,375]},"axis":null},
  "y":{"field":"by","type":"quantitative","scale":{"domain":[-1,1],"range":[764,424]},"axis":null},
  "text":{"field":"lab"}
 }},
{"data":{"name":"donut"},
 "transform":[{"filter":{"field":"g","equal":"HM"}}],
 "layer":[
  {"mark":{"type":"point","shape":"M-1,-0.467H1V0.467H-1Z","size":900,"filled":true,"opacity":1,"strokeWidth":0},
   "encoding":{"x":{"datum":1.076,"type":"quantitative","scale":{"domain":[-1,1],"range":[35,375]},"axis":null},"y":{"field":"k","type":"quantitative","scale":{"domain":[1,6],"range":[438,525]},"axis":null},
    "color":{"field":"c","type":"nominal","scale":{"domain":["GL","GP","SP","FA","ST","PR"],"range":["#fde4e4","#fbf3a5","#fccb9c","#9cdf9c","#d99ce8","#a0f8f8"]},"legend":null}}},
  {"mark":{"type":"text","fontSize":14.5,"align":"left","baseline":"middle"},
   "encoding":{"x":{"datum":1.194,"type":"quantitative","scale":{"domain":[-1,1],"range":[35,375]},"axis":null},"y":{"field":"k","type":"quantitative","scale":{"domain":[1,6],"range":[438,525]},"axis":null},"text":{"field":"c"}}}
 ],
 "resolve":{"scale":{"x":"independent","y":"independent"}}},
{"data":{"values":[{}]},
 "mark":{"type":"text","fontSize":27,"align":"left","baseline":"alphabetic"},
 "encoding":{
  "x":{"datum":-1.159,"type":"quantitative","scale":{"domain":[-1,1],"range":[35,375]},"axis":null},
  "y":{"datum":0.894,"type":"quantitative","scale":{"domain":[-1,1],"range":[764,424]},"axis":null},
  "text":{"value":"B"}
 }},
{"data":{"name":"radar"},
 "transform":[{"fold":["HM","Goat-E","Goat-M","Goat-L"],"as":["g","val"]},{"filter":{"field":"g","equal":"Goat-L"}}],
 "mark":{"type":"arc","thetaOffset":-0.0515,"theta2Offset":0.0515,"fill":"#4def4d","stroke":"#4def4d","strokeWidth":0.5},
 "encoding":{
  "x":{"datum":0,"type":"quantitative","scale":{"domain":[-1,1],"range":[973,1343]},"axis":null},
  "y":{"datum":0,"type":"quantitative","scale":{"domain":[-1,1],"range":[550,180]},"axis":null},
  "theta":{"field":"i","type":"quantitative","stack":null,"scale":{"domain":[0,61],"range":[0,6.2832]}},
  "theta2":{"field":"i"},
  "radius":{"field":"val","type":"quantitative","scale":{"type":"linear","domain":[0,50],"range":[152,179]}},
  "radius2":{"datum":0}
 }},
{"data":{"name":"radar"},
 "transform":[{"fold":["HM","Goat-E","Goat-M","Goat-L"],"as":["g","val"]},{"filter":{"field":"g","equal":"Goat-M"}}],
 "mark":{"type":"arc","thetaOffset":-0.0515,"theta2Offset":0.0515,"fill":"#f5e83c","stroke":"#f5e83c","strokeWidth":0.5},
 "encoding":{
  "x":{"datum":0,"type":"quantitative","scale":{"domain":[-1,1],"range":[973,1343]},"axis":null},
  "y":{"datum":0,"type":"quantitative","scale":{"domain":[-1,1],"range":[550,180]},"axis":null},
  "theta":{"field":"i","type":"quantitative","stack":null,"scale":{"domain":[0,61],"range":[0,6.2832]}},
  "theta2":{"field":"i"},
  "radius":{"field":"val","type":"quantitative","scale":{"type":"linear","domain":[0,50],"range":[122,149]}},
  "radius2":{"datum":0}
 }},
{"data":{"name":"radar"},
 "transform":[{"fold":["HM","Goat-E","Goat-M","Goat-L"],"as":["g","val"]},{"filter":{"field":"g","equal":"Goat-E"}}],
 "mark":{"type":"arc","thetaOffset":-0.0515,"theta2Offset":0.0515,"fill":"#f89048","stroke":"#f89048","strokeWidth":0.5},
 "encoding":{
  "x":{"datum":0,"type":"quantitative","scale":{"domain":[-1,1],"range":[973,1343]},"axis":null},
  "y":{"datum":0,"type":"quantitative","scale":{"domain":[-1,1],"range":[550,180]},"axis":null},
  "theta":{"field":"i","type":"quantitative","stack":null,"scale":{"domain":[0,61],"range":[0,6.2832]}},
  "theta2":{"field":"i"},
  "radius":{"field":"val","type":"quantitative","scale":{"type":"linear","domain":[0,50],"range":[92,119]}},
  "radius2":{"datum":0}
 }},
{"data":{"name":"radar"},
 "transform":[{"fold":["HM","Goat-E","Goat-M","Goat-L"],"as":["g","val"]},{"filter":{"field":"g","equal":"HM"}}],
 "mark":{"type":"arc","thetaOffset":-0.0515,"theta2Offset":0.0515,"fill":"#f44545","stroke":"#f44545","strokeWidth":0.5},
 "encoding":{
  "x":{"datum":0,"type":"quantitative","scale":{"domain":[-1,1],"range":[973,1343]},"axis":null},
  "y":{"datum":0,"type":"quantitative","scale":{"domain":[-1,1],"range":[550,180]},"axis":null},
  "theta":{"field":"i","type":"quantitative","stack":null,"scale":{"domain":[0,61],"range":[0,6.2832]}},
  "theta2":{"field":"i"},
  "radius":{"field":"val","type":"quantitative","scale":{"type":"linear","domain":[0,50],"range":[62,89]}},
  "radius2":{"datum":0}
 }},
{"data":{"values":[{}]},
 "layer":[
  {"mark":{"type":"arc","theta":0,"theta2":6.2832,"radius":62,"radius2":0,"filled":false,"stroke":"#9a9a9a","strokeWidth":0.8}},
  {"mark":{"type":"arc","theta":0,"theta2":6.2832,"radius":92,"radius2":0,"filled":false,"stroke":"#9a9a9a","strokeWidth":0.8}},
  {"mark":{"type":"arc","theta":0,"theta2":6.2832,"radius":122,"radius2":0,"filled":false,"stroke":"#9a9a9a","strokeWidth":0.8}},
  {"mark":{"type":"arc","theta":0,"theta2":6.2832,"radius":152,"radius2":0,"filled":false,"stroke":"#9a9a9a","strokeWidth":0.8}},
  {"mark":{"type":"arc","theta":0,"theta2":6.2832,"radius":184,"radius2":0,"filled":false,"stroke":"#8a8a8a","strokeWidth":1}}
 ],
 "encoding":{
  "x":{"datum":0,"type":"quantitative","scale":{"domain":[-1,1],"range":[973,1343]},"axis":null},
  "y":{"datum":0,"type":"quantitative","scale":{"domain":[-1,1],"range":[550,180]},"axis":null}
 }},
{"data":{"name":"radar"},
 "mark":{"type":"arc","radius":191,"radius2":184,"filled":false,"stroke":"#8a8a8a","strokeWidth":0.9},
 "encoding":{
  "x":{"datum":0,"type":"quantitative","scale":{"domain":[-1,1],"range":[973,1343]},"axis":null},
  "y":{"datum":0,"type":"quantitative","scale":{"domain":[-1,1],"range":[550,180]},"axis":null},
  "theta":{"field":"i","type":"quantitative","stack":null,"scale":{"domain":[0,61],"range":[0,6.2832]}},
  "theta2":{"field":"i"}
 }},
{"data":{"name":"radar"},
 "mark":{"type":"arc","radius":189,"radius2":184,"filled":false,"stroke":"#8a8a8a","strokeWidth":0.9},
 "encoding":{
  "x":{"datum":0,"type":"quantitative","scale":{"domain":[-1,1],"range":[973,1343]},"axis":null},
  "y":{"datum":0,"type":"quantitative","scale":{"domain":[-1,1],"range":[550,180]},"axis":null},
  "theta":{"field":"i","type":"quantitative","stack":null,"scale":{"domain":[0,61],"range":[0.0515,6.3347]}},
  "theta2":{"field":"i"}
 }},
{"data":{"name":"radar"},
 "transform":[{"filter":{"field":"i","lte":30}}],
 "mark":{"type":"text","radius":195,"fontSize":12,"align":"left","baseline":"middle"},
 "encoding":{
  "x":{"datum":0,"type":"quantitative","scale":{"domain":[-1,1],"range":[973,1343]},"axis":null},
  "y":{"datum":0,"type":"quantitative","scale":{"domain":[-1,1],"range":[550,180]},"axis":null},
  "theta":{"field":"i","type":"quantitative","stack":null,"scale":{"domain":[0,61],"range":[0,6.2832]}},
  "angle":{"field":"i","type":"quantitative","scale":{"domain":[0,61],"range":[-90,270]}},
  "text":{"field":"lipid"}
 }},
{"data":{"name":"radar"},
 "transform":[{"filter":{"field":"i","gte":31}}],
 "mark":{"type":"text","radius":195,"fontSize":12,"align":"right","baseline":"middle"},
 "encoding":{
  "x":{"datum":0,"type":"quantitative","scale":{"domain":[-1,1],"range":[973,1343]},"axis":null},
  "y":{"datum":0,"type":"quantitative","scale":{"domain":[-1,1],"range":[550,180]},"axis":null},
  "theta":{"field":"i","type":"quantitative","stack":null,"scale":{"domain":[0,61],"range":[0,6.2832]}},
  "angle":{"field":"i","type":"quantitative","scale":{"domain":[0,61],"range":[90,450]}},
  "text":{"field":"lipid"}
 }},
{"data":{"values":[{}]},
 "mark":{"type":"rect","fill":"white","stroke":"#a0a0a0","strokeWidth":1},
 "encoding":{
  "x":{"datum":-0.211,"type":"quantitative","scale":{"domain":[-1,1],"range":[973,1343]},"axis":null},
  "x2":{"datum":0.211},
  "y":{"datum":0.1405,"type":"quantitative","scale":{"domain":[-1,1],"range":[550,180]},"axis":null},
  "y2":{"datum":-0.146}
 }},
{"data":{"name":"grp"},
 "layer":[
  {"mark":{"type":"point","shape":"M-1,-0.45H1V0.45H-1Z","size":400,"filled":true,"opacity":1,"stroke":"#bbbbbb","strokeWidth":0.3},
   "encoding":{"x":{"datum":-0.146,"type":"quantitative","scale":{"domain":[-1,1],"range":[973,1343]},"axis":null},
    "y":{"field":"g","type":"nominal","scale":{"type":"point","domain":["HM","Goat-E","Goat-M","Goat-L"],"range":[347,386],"padding":0},"axis":null},
    "color":{"field":"g","type":"nominal","scale":{"domain":["HM","Goat-E","Goat-M","Goat-L"],"range":["#f44545","#f89048","#f5e83c","#4def4d"]},"legend":null}}},
  {"mark":{"type":"text","fontSize":10,"align":"left","baseline":"middle"},
   "encoding":{"x":{"datum":-0.065,"type":"quantitative","scale":{"domain":[-1,1],"range":[973,1343]},"axis":null},
    "y":{"field":"g","type":"nominal","scale":{"type":"point","domain":["HM","Goat-E","Goat-M","Goat-L"],"range":[347,386],"padding":0},"axis":null},
    "text":{"field":"g"}}}
 ],
 "resolve":{"scale":{"x":"independent","y":"independent"}}},
{"data":{"values":[{}]},
 "mark":{"type":"text","fontSize":27,"align":"left","baseline":"alphabetic"},
 "encoding":{
  "x":{"datum":-1.097,"type":"quantitative","scale":{"domain":[-1,1],"range":[973,1343]},"axis":null},
  "y":{"datum":1.081,"type":"quantitative","scale":{"domain":[-1,1],"range":[550,180]},"axis":null},
  "text":{"value":"C"}
 }}
]
}
